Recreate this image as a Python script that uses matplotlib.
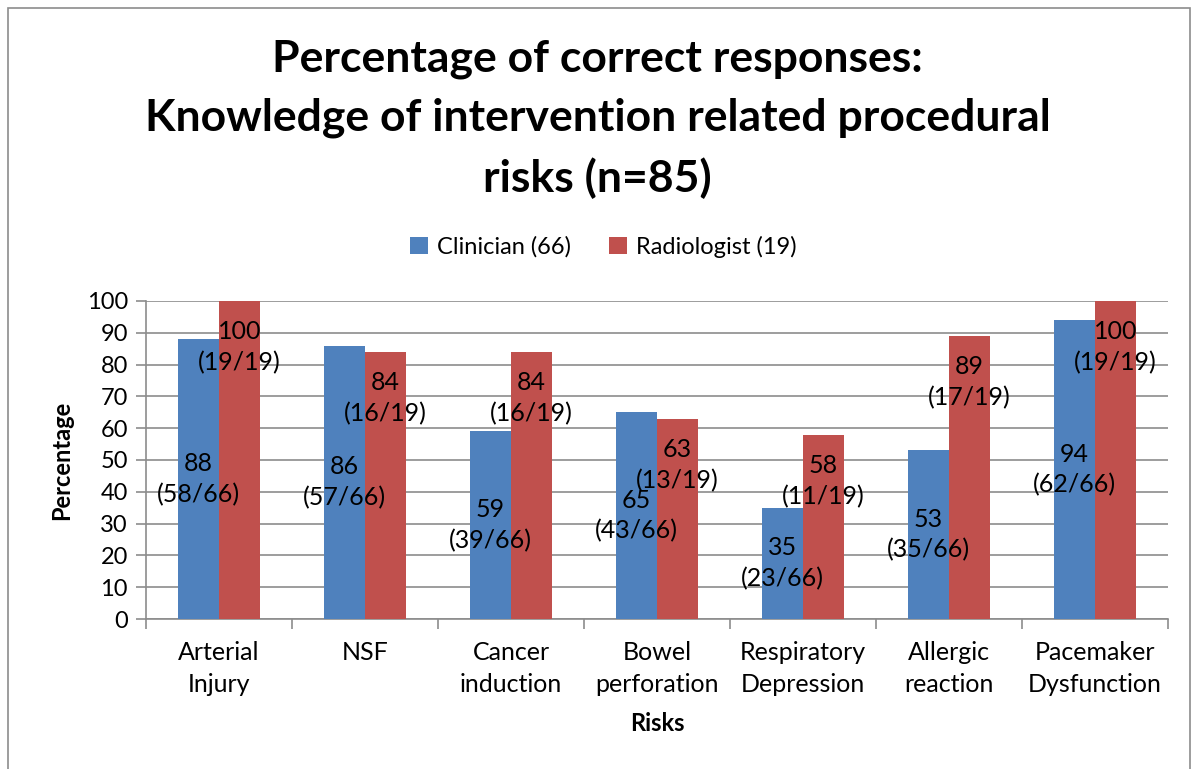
import matplotlib
matplotlib.use("Agg")
import matplotlib.pyplot as plt
import numpy as np
from matplotlib.patches import Rectangle

categories = ["Arterial\nInjury", "NSF", "Cancer\ninduction", "Bowel\nperforation",
              "Respiratory\nDepression", "Allergic\nreaction", "Pacemaker\nDysfunction"]
clinician = [88, 86, 59, 65, 35, 53, 94]
clinician_counts = ["58/66", "57/66", "39/66", "43/66", "23/66", "35/66", "62/66"]
radiologist = [100, 84, 84, 63, 58, 89, 100]
radiologist_counts = ["19/19", "16/19", "16/19", "13/19", "11/19", "17/19", "19/19"]
yticks = list(range(0, 101, 10))

plt.rcParams['font.family'] = ['Lato', 'DejaVu Sans']

fig = plt.figure(figsize=(11.95, 7.69), dpi=100)
ax = fig.add_axes([146/1195, 1-619/769, (1168-146)/1195, (619-301)/769])

blue = "#4F81BD"
red = "#C0504D"
x = np.arange(len(categories))
w = 0.28
ax.bar(x - w/2, clinician, w, color=blue, label="Clinician (66)", zorder=3)
ax.bar(x + w/2, radiologist, w, color=red, label="Radiologist (19)", zorder=3)

for i in range(len(categories)):
    ax.text(x[i] - w/2, clinician[i]/2, f"{clinician[i]}\n({clinician_counts[i]})",
            ha="center", va="center", fontsize=18, zorder=4, linespacing=1.4)
    ax.annotate(f"{radiologist[i]}\n({radiologist_counts[i]})", (x[i] + w/2, radiologist[i]),
                xytext=(0, -14), textcoords="offset points", ha="center", va="top",
                fontsize=18, zorder=4, annotation_clip=False, linespacing=1.4)

ax.set_xlim(-0.5, len(categories) - 0.5)
ax.set_ylim(0, 100)
ax.set_yticks(yticks)
ax.set_yticklabels([str(t) for t in yticks], fontsize=17)
ax.yaxis.grid(True, color="#8c8c8c", linewidth=1.2, zorder=0)
ax.set_axisbelow(True)

ax.set_xticks(x)
ax.set_xticklabels(categories, fontsize=18, linespacing=1.45)
ax.tick_params(axis="x", length=0, pad=16)
ax.set_xticks(np.arange(-0.5, len(categories)), minor=True)
ax.tick_params(axis="x", which="minor", length=7, color="#8c8c8c", width=1.2)
ax.tick_params(axis="y", length=7, color="#8c8c8c", width=1.2, pad=6)

for s in ["top", "right"]:
    ax.spines[s].set_visible(False)
for s in ["left", "bottom"]:
    ax.spines[s].set_color("#8c8c8c")
    ax.spines[s].set_linewidth(1.2)

ax.set_xlabel("Risks", fontsize=17, fontweight="bold", labelpad=12)
ax.set_ylabel("Percentage", fontsize=17, fontweight="bold", labelpad=10)

fig.text(0.5, 1-119/769, "Percentage of correct responses:\nKnowledge of intervention related procedural\nrisks (n=85)",
         ha="center", va="center", fontsize=32, fontweight="bold", linespacing=1.55)

fig.legend(loc="center", bbox_to_anchor=(0.505, 1-247/769), ncol=2, frameon=False,
           fontsize=17, handlelength=0.75, handleheight=0.75, columnspacing=1.6, handletextpad=0.4)

fig.patches.append(Rectangle((8/1195, -0.1), (1190-8)/1195, 1.1 - 8/769, transform=fig.transFigure,
                             fill=False, edgecolor="#8c8c8c", linewidth=1.2))

fig.savefig("out.png", dpi=100)
